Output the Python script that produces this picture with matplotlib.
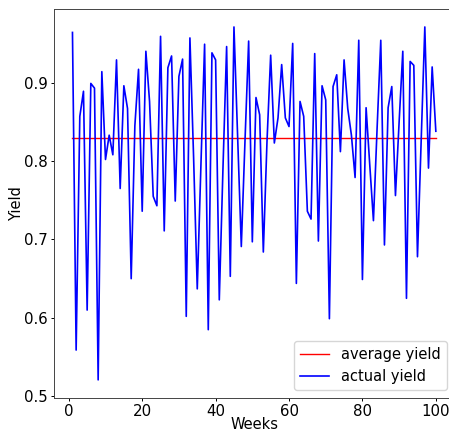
import numpy as np
import matplotlib
matplotlib.use("Agg")
import matplotlib.pyplot as plt

weeks = list(range(1, 101))
actual_yield = [
    0.964, 0.559, 0.857, 0.889, 0.610, 0.899, 0.893, 0.521, 0.914, 0.802,
    0.833, 0.808, 0.929, 0.765, 0.896, 0.867, 0.650, 0.845, 0.917, 0.736,
    0.940, 0.876, 0.755, 0.743, 0.959, 0.711, 0.919, 0.934, 0.749, 0.908,
    0.930, 0.602, 0.957, 0.805, 0.637, 0.795, 0.949, 0.585, 0.938, 0.929,
    0.623, 0.790, 0.946, 0.653, 0.971, 0.831, 0.691, 0.825, 0.953, 0.697,
    0.881, 0.859, 0.684, 0.825, 0.935, 0.823, 0.855, 0.923, 0.855, 0.844,
    0.950, 0.644, 0.876, 0.857, 0.736, 0.726, 0.937, 0.698, 0.896, 0.878,
    0.599, 0.895, 0.910, 0.812, 0.929, 0.867, 0.833, 0.779, 0.954, 0.649,
    0.868, 0.795, 0.724, 0.842, 0.954, 0.693, 0.868, 0.895, 0.756, 0.850,
    0.940, 0.625, 0.927, 0.922, 0.678, 0.825, 0.971, 0.791, 0.920, 0.838,
]
avg_yield = 0.83

fig = plt.figure(figsize=(4.49, 4.32), dpi=100)
# the right edge of the original axes lies just past the image border
ax = fig.add_axes([54.3 / 449, 1 - 397.5 / 432, (454 - 54.3) / 449, (397.5 - 9.3) / 432])

ax.plot(weeks, [avg_yield] * len(weeks), color="red", lw=1.0, label="average yield")
ax.plot(weeks, actual_yield, color="blue", lw=1.2, label="actual yield")

ax.set_xlabel("Weeks", fontsize=10.5, labelpad=-1.5)
ax.set_ylabel("Yield", fontsize=10.5, labelpad=0)
ax.tick_params(labelsize=10.8, length=2.5, pad=2.5, width=0.7)
for s in ax.spines.values():
    s.set_linewidth(0.7)
    s.set_color("#444444")
ax.set_xticks([0, 20, 40, 60, 80, 100])
ax.set_yticks([0.5, 0.6, 0.7, 0.8, 0.9])
ax.legend(loc="lower right", fontsize=10.5)

fig.savefig("out.png", dpi=100)
